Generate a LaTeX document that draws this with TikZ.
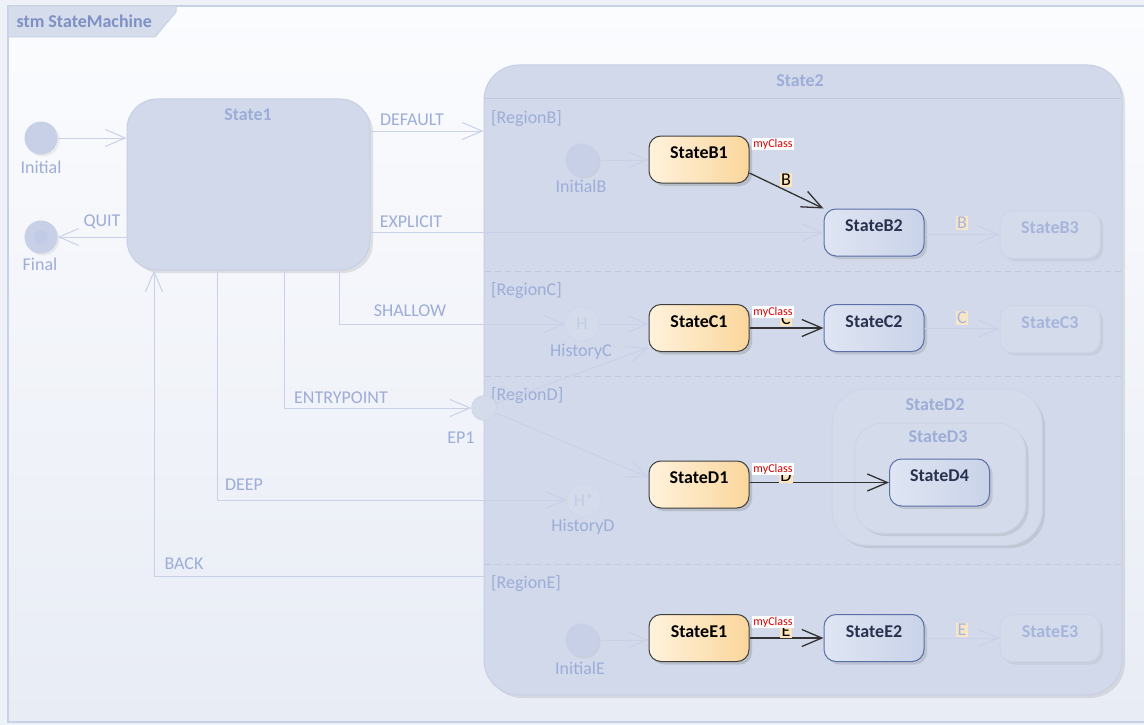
\documentclass[tikz,border=0pt]{standalone}
\usepackage{fontspec}
\setmainfont{Carlito}
\usetikzlibrary{arrows.meta,shadows,positioning}

\definecolor{pagebg}{HTML}{EEF1F7}
\definecolor{frametop}{HTML}{FBFCFE}
\definecolor{framebot}{HTML}{E8ECF5}
\definecolor{framecol}{HTML}{C9D1E5}
\definecolor{tabfill}{HTML}{D5DCEC}
\definecolor{tabtext}{HTML}{7E90C4}
\definecolor{dimtext}{HTML}{9DADD8}
\definecolor{dimline}{HTML}{C8D1E8}
\definecolor{bigfill}{HTML}{D1D9EA}
\definecolor{bigdraw}{HTML}{C6CFE4}
\definecolor{sepcol}{HTML}{C0C9DF}
\definecolor{pseudofill}{HTML}{C7D0E7}
\definecolor{hotleft}{HTML}{FFF2DC}
\definecolor{hotright}{HTML}{FAD69C}
\definecolor{coolleft}{HTML}{DFE5F3}
\definecolor{coolright}{HTML}{C9D3E8}
\definecolor{cooldraw}{HTML}{5C6FA8}
\definecolor{cooltext}{HTML}{28324F}
\definecolor{fadefill}{HTML}{D4DBEB}
\definecolor{fadedraw}{HTML}{CDD5E8}
\definecolor{fadetext}{HTML}{A7B5DC}
\definecolor{trigfill}{HTML}{FCE4BC}
\definecolor{trigdim}{HTML}{F7E5C8}

\newcommand\labelsize{\fontsize{18}{21}\selectfont}
\newcommand\tagsize{\fontsize{12}{13}\selectfont}

\tikzset{
  bigstate/.style={draw=bigdraw, fill=bigfill, line width=1pt, inner sep=0pt,
    drop shadow={shadow xshift=3pt, shadow yshift=-3pt, opacity=0.2}},
  state/.style={rectangle, rounded corners=12pt, minimum width=100pt,
    minimum height=47pt, inner sep=0pt, text height=12pt, text depth=14pt,
    line width=1pt, font=\labelsize\bfseries},
  hotstate/.style={state, draw=black!75, left color=hotleft, right color=hotright,
    drop shadow={shadow xshift=3pt, shadow yshift=-3pt, opacity=0.3}},
  coolstate/.style={state, draw=cooldraw, left color=coolleft, right color=coolright,
    text=cooltext, drop shadow={shadow xshift=3pt, shadow yshift=-3pt, opacity=0.25}},
  fadestate/.style={state, draw=fadedraw, fill=fadefill, text=fadetext,
    drop shadow={shadow xshift=3pt, shadow yshift=-3pt, opacity=0.12}},
  pseudo/.style={circle, fill=pseudofill, minimum size=33pt, inner sep=0pt,
    drop shadow={shadow xshift=2pt, shadow yshift=-2pt, opacity=0.12}},
  hist/.style={circle, draw=fadedraw, fill=fadefill, minimum size=34pt, inner sep=0pt,
    text=fadedraw!80!dimtext},
  title/.style={text=dimtext, font=\labelsize\bfseries},
  lbl/.style={text=dimtext, inner sep=1pt},
  tr/.style={draw=dimline, line width=1pt, -{Straight Barb[length=20pt,width=17pt]}},
  go/.style={draw=black!80, line width=1.3pt, -{Straight Barb[length=20pt,width=17pt]}},
  trig/.style={fill=trigfill, inner sep=1.5pt},
  trigfaint/.style={fill=trigdim, text=fadetext, inner sep=1.5pt},
  tag/.style={fill=white, text=red!85!black, font=\tagsize, inner sep=1pt},
  sep/.style={draw=sepcol, line width=1pt, dash pattern=on 6pt off 4pt}
}

\begin{document}
\begin{tikzpicture}[x=1pt, y=-1pt, font=\labelsize]
    %page and frame
    \useasboundingbox (0,0) rectangle (1144,725);
    \fill[pagebg] (0,0) rectangle (1144,725);
    \shade[top color=frametop, bottom color=framebot] (8,6) rectangle (1150,722);
    \draw[framecol, line width=1.5pt] (8,6) rectangle (1150,722);
    \filldraw[fill=tabfill, draw=framecol, line width=1pt]
        (8,6) -- (176,6) -- (176,12) -- (155,37) -- (8,37) -- cycle;
    \node[anchor=west, text=tabtext, font=\labelsize\bfseries] (tab) at (13,21) {stm StateMachine};

    %%%%%%%%%%%%%%%%%%%%%%%%%%%%%%%%%%%
    %%%big states
    %%%%%%%%%%%%%%%%%%%%%%%%%%%%%%%%%%%
    \node[bigstate, rounded corners=30pt, minimum width=243pt, minimum height=171pt] (s1) at (248.5,184.5) {};
    \node[title] (s1t) at (248,115) {State1};
    \node[bigstate, rounded corners=35pt, minimum width=638pt, minimum height=630pt] (s2) at (803,380) {};
    \node[title] (s2t) at (800,81) {State2};
        %draw region borders
    \draw[sepcol, line width=1pt] (485,99) -- (1121,99);
    \draw[sep] (485,271) -- (1121,271);
    \draw[sep] (485,376) -- (1121,376);
    \draw[sep] (485,564) -- (1121,564);
    \node[lbl, anchor=west] (rb) at (490,119) {[RegionB]};
    \node[lbl, anchor=west] (rc) at (490,291) {[RegionC]};
    \node[lbl, anchor=west] (rd) at (490,396) {[RegionD]};
    \node[lbl, anchor=west] (re) at (490,584) {[RegionE]};
        %nested states of region D
    \node[bigstate, draw=fadedraw, fill=fadefill, rounded corners=35pt, minimum width=210pt, minimum height=156pt] (d2) at (937,467) {};
    \node[title] (d2t) at (935,405) {StateD2};
    \node[bigstate, draw=fadedraw, fill=fadefill, rounded corners=28pt, minimum width=171pt, minimum height=110pt] (d3) at (940,478) {};
    \node[title] (d3t) at (938,437) {StateD3};

    %%%%%%%%%%%%%%%%%%%%%%%%%%%%%%%%%%%
    %%%pseudo states
    %%%%%%%%%%%%%%%%%%%%%%%%%%%%%%%%%%%
    \node[pseudo] (ini) at (41,138) {};
    \node[lbl] (inil) at (41,167) {Initial};
    \node[pseudo] (fin) at (41,237) {};
    \fill[pseudofill!85!dimtext] (fin.center) circle (7pt);
    \node[lbl] (finl) at (40,264) {Final};
    \node[pseudo] (ib) at (582,160) {};
    \node[lbl] (ibl) at (581,186) {InitialB};
    \node[hist] (hc) at (582,324) {H};
    \node[lbl] (hcl) at (581,352) {HistoryC};
    \node[circle, draw=bigdraw, fill=fadefill, minimum size=25pt, inner sep=0pt] (ep) at (484,408) {};
    \node[lbl] (epl) at (461,438) {EP1};
    \node[hist] (hd) at (584,500) {H*};
    \node[lbl] (hdl) at (583,527) {HistoryD};
    \node[pseudo] (ie) at (582,640) {};
    \node[lbl] (iel) at (580,668) {InitialE};

    %%%%%%%%%%%%%%%%%%%%%%%%%%%%%%%%%%%
    %%%simple states
    %%%%%%%%%%%%%%%%%%%%%%%%%%%%%%%%%%%
    \node[hotstate] (b1) at (699,159.5) {StateB1};
    \node[coolstate] (b2) at (874,232.5) {StateB2};
    \node[fadestate] (b3) at (1050,234.5) {StateB3};
    \node[hotstate] (c1) at (699,328) {StateC1};
    \node[coolstate] (c2) at (874,328) {StateC2};
    \node[fadestate] (c3) at (1050,329) {StateC3};
    \node[hotstate] (d1) at (699,484.5) {StateD1};
    \node[coolstate] (d4) at (939.5,482.5) {StateD4};
    \node[hotstate] (e1) at (699,638) {StateE1};
    \node[coolstate] (e2) at (874,638) {StateE2};
    \node[fadestate] (e3) at (1050,638) {StateE3};

    %%%%%%%%%%%%%%%%%%%%%%%%%%%%%%%%%%%
    %%%transitions
    %%%%%%%%%%%%%%%%%%%%%%%%%%%%%%%%%%%
    \coordinate (dflt) at (0,131);
    \coordinate (shx) at (339,0);
    \coordinate (epx) at (284,0);
    \coordinate (dpx) at (217,0);
    \coordinate (bkx) at (154,576);
        %draw transitions of State1
    \draw[tr] (ini) -- (s1.west |- ini);
    \draw[tr] (s1.west |- fin) -- (fin);
    \draw[tr] (s1.east |- dflt) -- (s2.west |- dflt);
    \draw[tr] (s1.east |- b2.west) -- (b2.west);
    \draw[tr] (s1.south -| shx) |- (hc);
    \draw[tr] (s1.south -| epx) |- (ep);
    \draw[tr] (s1.south -| dpx) |- (hd);
    \draw[tr] (s2.west |- bkx) -| (s1.south -| bkx);
        %draw transitions inside State2
    \draw[tr] (ib) -- (b1.west |- ib);
    \draw[go] (b1.-15) -- (b2.north west);
    \draw[tr] (b2.east |- b3.west) -- (b3.west);
    \draw[tr] (hc) -- (c1.west |- hc);
    \draw[tr] (ep) -- (c1.-159);
    \draw[tr] (ep) -- (d1.172);
    \draw[go] (c1) -- (c2);
    \draw[tr] (c2) -- (c3);
    \draw[go] (d1.east |- d4) -- (d4.west);
    \draw[tr] (ie) -- (e1.west |- ie);
    \draw[go] (e1) -- (e2);
    \draw[tr] (e2) -- (e3);

        %draw transition names
    \node[lbl] (qt) at (102,222) {QUIT};
    \node[lbl] (df) at (412,120) {DEFAULT};
    \node[lbl] (ex) at (411,222) {EXPLICIT};
    \node[lbl] (sh) at (410,311) {SHALLOW};
    \node[lbl] (en) at (341,398) {ENTRYPOINT};
    \node[lbl] (dp) at (244,485) {DEEP};
    \node[lbl] (bk) at (184,564) {BACK};
        %draw triggers
    \node[trig] (tgb) at (786,180) {B};
    \node[trigfaint] (tgb3) at (962,223) {B};
    \node[trig] (tgc) at (786,319) {C};
    \node[trigfaint] (tgc3) at (962,318) {C};
    \node[trig] (tgd) at (786,476) {D};
    \node[trig] (tge) at (786,631) {E};
    \node[trigfaint] (tge3) at (962,630) {E};
        %draw class tags
    \node[tag] (kb1) at (773,144) {myClass};
    \node[tag] (kc1) at (773,312) {myClass};
    \node[tag] (kd1) at (773,469) {myClass};
    \node[tag] (ke1) at (773,622) {myClass};
\end{tikzpicture}
\end{document}
